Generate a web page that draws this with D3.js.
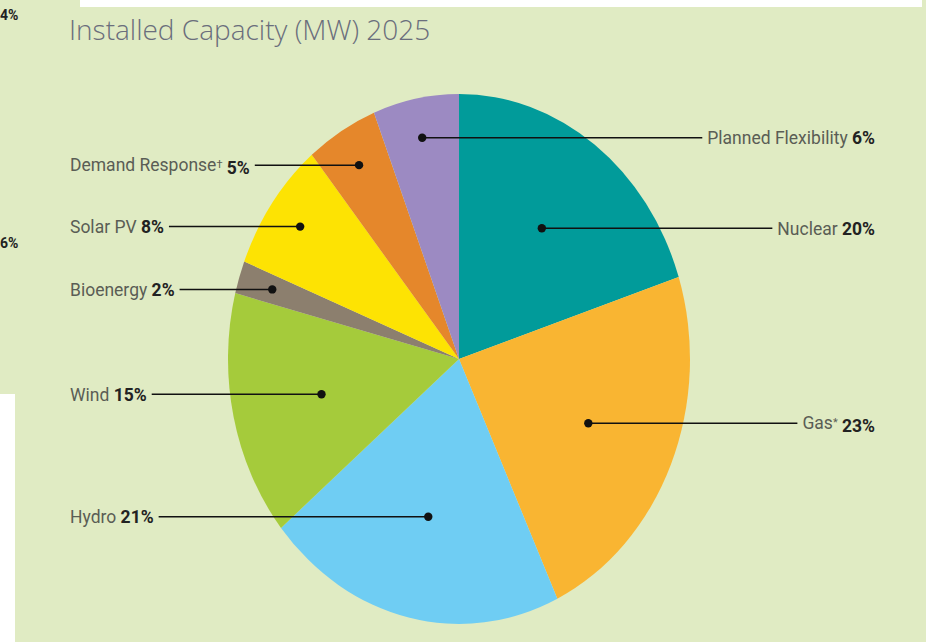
<!DOCTYPE html>
<html>
<head>
<meta charset="utf-8">
<script src="https://cdn.jsdelivr.net/npm/d3@7"></script>
<style>
  html, body { margin: 0; padding: 0; background: #e0ebc3; }
  .chart svg { display: block; }
  .title { font-family: "Open Sans", sans-serif; font-weight: 300; font-size: 28px; fill: #6a6e7c; }
  .label { font-family: Roboto, sans-serif; font-size: 17.5px; fill: #5a5d55; }
  .label .pct { font-weight: bold; fill: #222; }
</style>
</head>
<body>
<div class="chart"></div>
<script>
// data
const categories = ["Nuclear", "Gas", "Hydro", "Wind", "Bioenergy", "Solar PV", "Demand Response", "Planned Flexibility"];
const notes = ["", "*", "", "", "", "", "\u2020", ""];
const shares = [20, 23, 21, 15, 2, 8, 5, 6];
const colors = ["#019b9a", "#f9b532", "#6fcdf3", "#a5cb3b", "#8c7f6e", "#fde303", "#e5872b", "#9c8ac2"];

const w = 926;
const h = 642;
const cx = 459, cy = 359;
const radius = 231;
const stretch = 1.147; // the picture's pie is slightly taller than wide

const svg = d3.select('.chart')
    .append('svg')
    .attr('width', w)
    .attr('height', h);

svg.append('rect').attr('width', w).attr('height', h).attr('fill', '#e0ebc3');

// white edges of the scanned page
svg.append('rect').attr('x', 80).attr('y', 0).attr('width', 842).attr('height', 7).attr('fill', '#fff');
svg.append('rect').attr('x', 0).attr('y', 394).attr('width', 15).attr('height', h - 394).attr('fill', '#fff');

// numbers from the neighbouring page
svg.append('text').attr('x', 0).attr('y', 20).attr('class', 'label')
    .style('font-weight', 'bold').style('font-size', '14px').style('fill', '#222').text('4%');
svg.append('text').attr('x', 0).attr('y', 248).attr('class', 'label')
    .style('font-weight', 'bold').style('font-size', '14px').style('fill', '#222').text('6%');

svg.append('text')
    .attr('class', 'title')
    .attr('x', 69)
    .attr('y', 40)
    .text('Installed Capacity (MW) 2025');

const pie = d3.pie().sort(null).value(d => d);
const arcs = pie(shares);

const arc = d3.arc().innerRadius(0).outerRadius(radius);

const pieG = svg.append('g')
    .attr('transform', `translate(${cx}, ${cy}) scale(1, ${stretch})`);

pieG.selectAll('path')
    .data(arcs)
    .enter().append('path')
    .attr('d', arc)
    .attr('fill', (d, i) => colors[i]);

// dot positions: big slices closer to the centre, small ones near the rim
function dotPos(d) {
    const r = d.value > 10 ? radius * 0.61 : radius * 0.85;
    const c = d3.arc().innerRadius(r).outerRadius(r).centroid(d);
    return [cx + c[0], cy + c[1] * stretch];
}

const labels = svg.append('g');

arcs.forEach((d, i) => {
    const [px, py] = dotPos(d);
    const mid = (d.startAngle + d.endAngle) / 2;
    // the slice that closes the circle at 12 o'clock is labelled on the right
    const left = mid > Math.PI && i < arcs.length - 1;

    const t = labels.append('text')
        .attr('class', 'label')
        .attr('y', py)
        .attr('dy', '0.36em')
        .attr('x', left ? 70 : 875)
        .style('text-anchor', left ? 'start' : 'end');
    t.append('tspan').text(categories[i]);
    if (notes[i]) {
        t.append('tspan').attr('dy', '-0.35em').style('font-size', '11px').text(notes[i]);
        t.append('tspan').attr('dy', '0.35em').text(' ');
    } else {
        t.append('tspan').text(' ');
    }
    t.append('tspan').attr('class', 'pct').text(shares[i] + '%');

    const tw = t.node().getComputedTextLength();
    const x2 = left ? 70 + tw + 5 : 875 - tw - 5;

    labels.append('line')
        .attr('x1', px).attr('y1', py)
        .attr('x2', x2).attr('y2', py)
        .attr('stroke', '#111')
        .attr('stroke-width', 1.5);

    labels.append('circle')
        .attr('cx', px).attr('cy', py)
        .attr('r', 4.2)
        .attr('fill', '#111');
});
</script>
</body>
</html>
